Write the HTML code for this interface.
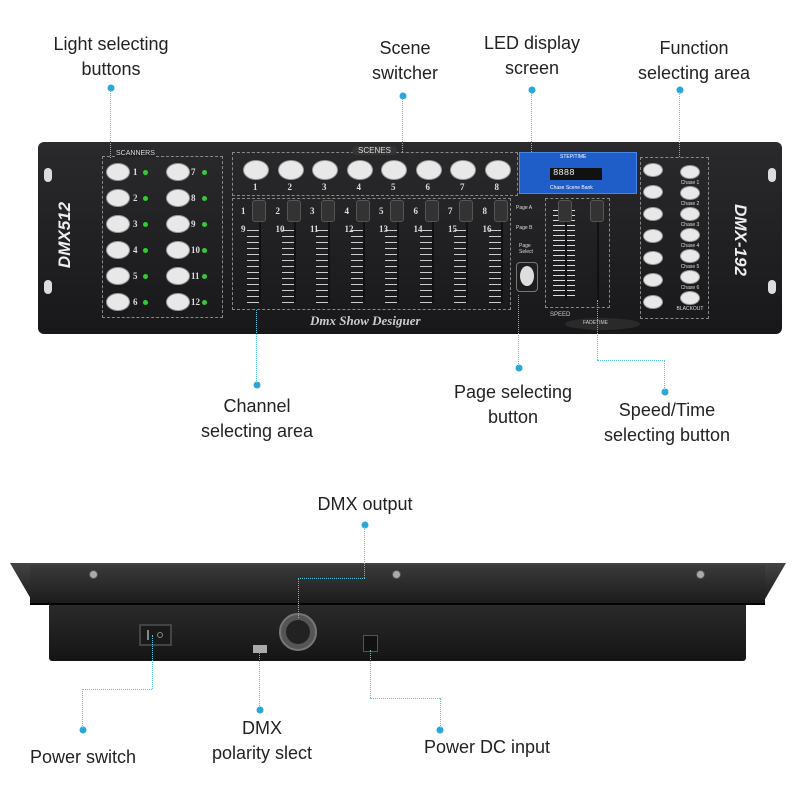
<!DOCTYPE html>
<html><head><meta charset="utf-8"><style>
*{margin:0;padding:0;box-sizing:border-box}
body{width:794px;height:795px;background:#fff;position:relative;overflow:hidden;font-family:"Liberation Sans",sans-serif}
.a{position:absolute}
.lbl{position:absolute;font-size:18px;color:#222;text-align:center;line-height:25px;white-space:nowrap;transform:translateX(-50%)}
.dot{position:absolute;width:7px;height:7px;border-radius:50%;background:#2aa7d8;transform:translate(-50%,-50%)}
.vl{position:absolute;border-left:1px dotted #5bc0d8;width:0}
.hl{position:absolute;border-top:1px dotted #5bc0d8;height:0}
.btn{position:absolute;width:24px;height:18px;border-radius:50%;background:#e8e8e8;border:1px solid #999}
.led{position:absolute;width:5px;height:5px;border-radius:50%;background:#3c3}
.num{position:absolute;color:#ddd;font-size:9px;font-family:"Liberation Serif",serif;font-weight:bold}
.box{position:absolute;border:1px dashed #888}
.fad{position:absolute;width:2px;background:#111}
.knob{position:absolute;width:14px;height:22px;background:#333;border:1px solid #555;border-radius:3px}
.sb{position:absolute;width:20px;height:14px;border-radius:50%;background:#e8e8e8;border:1px solid #999}
.st{position:absolute;color:#ddd;font-size:5px;width:40px;text-align:center}
.scr{position:absolute;width:9px;height:9px;border-radius:50%;background:#aaa;border:1px solid #555}
</style></head><body>

<!-- front panel -->
<div class="a" style="left:38px;top:142px;width:744px;height:192px;background:linear-gradient(#2a2a2c,#18181a);border-radius:6px"></div>
<div class="a" style="left:44px;top:168px;width:8px;height:14px;border-radius:4px;background:#ddd"></div>
<div class="a" style="left:44px;top:280px;width:8px;height:14px;border-radius:4px;background:#ddd"></div>
<div class="a" style="left:768px;top:168px;width:8px;height:14px;border-radius:4px;background:#ddd"></div>
<div class="a" style="left:768px;top:280px;width:8px;height:14px;border-radius:4px;background:#ddd"></div>
<div class="a" style="left:30px;top:225px;transform:rotate(-90deg);color:#eee;font-weight:bold;font-style:italic;font-size:17px;width:70px;text-align:center">DMX512</div>
<div class="a" style="left:700px;top:230px;transform:rotate(90deg);color:#eee;font-weight:bold;font-style:italic;font-size:17px;width:80px;text-align:center">DMX-192</div>

<div class="box" style="left:102px;top:156px;width:121px;height:162px"></div>
<div class="a" style="left:116px;top:150px;color:#ddd;font-size:7px;background:#222">SCANNERS</div>

<div class="box" style="left:232px;top:152px;width:286px;height:44px"></div>
<div class="a" style="left:352px;top:146px;color:#ddd;font-size:8px;background:#333;padding:0 6px;border-radius:6px">SCENES</div>
<div class="box" style="left:232px;top:198px;width:279px;height:112px"></div>
<div class="a" style="left:310px;top:313px;color:#ccc;font-size:13px;font-style:italic;font-weight:bold;font-family:'Liberation Serif',serif">Dmx Show Desiguer</div>

<div class="a" style="left:519px;top:152px;width:118px;height:42px;background:#1f5ec9;border:1px solid #4a86e8"></div>
<div class="a" style="left:550px;top:168px;width:52px;height:12px;background:#111"></div>
<div class="a" style="left:553px;top:168px;color:#eee;font-size:9px;font-family:'Liberation Mono',monospace">8888</div>
<div class="a" style="left:560px;top:154px;color:#fff;font-size:5px">STEP/TIME</div>
<div class="a" style="left:550px;top:185px;color:#fff;font-size:5px">Chase Scene Bank</div>

<div class="box" style="left:545px;top:198px;width:65px;height:110px"></div>
<div class="a" style="left:553px;top:210px;width:22px;height:90px;background:repeating-linear-gradient(#ddd 0 1px,transparent 1px 5px)"></div>
<div class="fad" style="left:565px;top:205px;height:95px"></div>
<div class="fad" style="left:597px;top:205px;height:95px"></div>
<div class="knob" style="left:558px;top:200px"></div>
<div class="knob" style="left:590px;top:200px"></div>
<div class="a" style="left:550px;top:312px;color:#ccc;font-size:6px">SPEED</div>
<div class="a" style="left:565px;top:318px;width:75px;height:12px;border-radius:50%;background:#2a2a2a"></div>
<div class="a" style="left:583px;top:320px;color:#ccc;font-size:5px">FADETIME</div>

<div class="box" style="left:640px;top:157px;width:69px;height:162px"></div>
<div class="a" style="left:516px;top:262px;width:22px;height:30px;border:1px solid #777;border-radius:4px"></div>
<div class="a" style="left:520px;top:266px;width:14px;height:20px;border-radius:50%;background:#ddd"></div>
<div class="a" style="left:516px;top:205px;color:#ddd;font-size:5px">Page A</div>
<div class="a" style="left:516px;top:225px;color:#ddd;font-size:5px">Page B</div>
<div class="a" style="left:519px;top:243px;color:#ddd;font-size:5px">Page<br>Select</div>

<div id="gen"></div>

<!-- back panel -->
<div class="a" style="left:10px;top:563px;width:776px;height:40px;background:linear-gradient(#444,#1a1a1a);clip-path:polygon(0 0,100% 0,97% 100%,3% 100%)"></div>
<div class="a" style="left:30px;top:565px;width:735px;height:40px;background:linear-gradient(#3a3a3a,#1a1a1a)"></div>
<div class="a" style="left:30px;top:603px;width:735px;height:2px;background:#000"></div>
<div class="a" style="left:49px;top:605px;width:697px;height:56px;background:linear-gradient(#2a2a2a,#151515);border-radius:0 0 3px 3px"></div>
<div class="a" style="left:139px;top:624px;width:33px;height:22px;background:#1a1a1a;border:2px solid #444"></div>
<div class="a" style="left:147px;top:630px;width:2px;height:10px;background:#888"></div>
<div class="a" style="left:157px;top:632px;width:6px;height:6px;border-radius:50%;border:1px solid #888"></div>
<div class="a" style="left:279px;top:613px;width:38px;height:38px;border-radius:50%;background:#555;border:2px solid #777"></div>
<div class="a" style="left:286px;top:620px;width:24px;height:24px;border-radius:50%;background:#222"></div>
<div class="a" style="left:363px;top:635px;width:15px;height:17px;background:#111;border:1px solid #555"></div>
<div class="a" style="left:253px;top:645px;width:14px;height:8px;background:#aaa"></div>
<div class="scr" style="left:89px;top:570px"></div>
<div class="scr" style="left:392px;top:570px"></div>
<div class="scr" style="left:696px;top:570px"></div>

<!-- labels -->
<div class="lbl" style="left:111px;top:32px">Light selecting<br>buttons</div>
<div class="dot" style="left:111px;top:88px"></div><div class="vl" style="left:110px;top:90px;height:68px"></div>
<div class="lbl" style="left:405px;top:36px">Scene<br>switcher</div>
<div class="dot" style="left:403px;top:96px"></div><div class="vl" style="left:402px;top:98px;height:54px"></div>
<div class="lbl" style="left:532px;top:31px">LED display<br>screen</div>
<div class="dot" style="left:532px;top:90px"></div><div class="vl" style="left:531px;top:92px;height:60px"></div>
<div class="lbl" style="left:694px;top:36px">Function<br>selecting area</div>
<div class="dot" style="left:680px;top:90px"></div><div class="vl" style="left:679px;top:92px;height:65px"></div>
<div class="lbl" style="left:257px;top:394px">Channel<br>selecting area</div>
<div class="dot" style="left:257px;top:385px"></div><div class="vl" style="left:256px;top:310px;height:73px"></div>
<div class="lbl" style="left:513px;top:380px">Page selecting<br>button</div>
<div class="dot" style="left:519px;top:368px"></div><div class="vl" style="left:518px;top:295px;height:71px"></div>
<div class="lbl" style="left:667px;top:398px">Speed/Time<br>selecting button</div>
<div class="dot" style="left:665px;top:392px"></div><div class="vl" style="left:664px;top:360px;height:30px"></div>
<div class="hl" style="left:597px;top:360px;width:68px"></div><div class="vl" style="left:597px;top:300px;height:60px"></div>

<div class="lbl" style="left:365px;top:492px">DMX output</div>
<div class="dot" style="left:365px;top:525px"></div><div class="vl" style="left:364px;top:527px;height:51px"></div><div class="hl" style="left:298px;top:578px;width:67px"></div><div class="vl" style="left:298px;top:578px;height:40px"></div>
<div class="lbl" style="left:83px;top:745px">Power switch</div>
<div class="dot" style="left:83px;top:730px"></div><div class="vl" style="left:82px;top:689px;height:39px"></div><div class="hl" style="left:82px;top:689px;width:70px"></div><div class="vl" style="left:152px;top:635px;height:54px"></div>
<div class="lbl" style="left:262px;top:716px">DMX<br>polarity slect</div>
<div class="dot" style="left:260px;top:710px"></div><div class="vl" style="left:259px;top:653px;height:55px"></div>
<div class="lbl" style="left:487px;top:735px">Power DC input</div>
<div class="dot" style="left:440px;top:730px"></div><div class="vl" style="left:370px;top:650px;height:48px"></div><div class="hl" style="left:370px;top:698px;width:70px"></div><div class="vl" style="left:440px;top:698px;height:30px"></div>

<script>
var g=document.getElementById('gen'),h='';
for(var i=0;i<6;i++){var y=163+i*26;
h+='<div class="btn" style="left:106px;top:'+y+'px"></div><div class="num" style="left:133px;top:'+(y+4)+'px">'+(i+1)+'</div><div class="led" style="left:143px;top:'+(y+7)+'px"></div>';
h+='<div class="btn" style="left:166px;top:'+y+'px"></div><div class="num" style="left:191px;top:'+(y+4)+'px">'+(i+7)+'</div><div class="led" style="left:202px;top:'+(y+7)+'px"></div>';}
for(var i=0;i<8;i++){var x=243+i*34.5;
h+='<div class="btn" style="left:'+x+'px;top:160px;width:26px;height:20px"></div><div class="num" style="left:'+(x+10)+'px;top:182px">'+(i+1)+'</div>';
h+='<div class="a" style="left:'+(x+4)+'px;top:230px;width:12px;height:75px;background:repeating-linear-gradient(#ccc 0 1px,transparent 1px 6px)"></div>';
h+='<div class="fad" style="left:'+(x+16)+'px;top:205px;height:98px"></div><div class="knob" style="left:'+(x+9)+'px;top:200px"></div>';
h+='<div class="num" style="left:'+(x-2)+'px;top:206px">'+(i+1)+'</div><div class="num" style="left:'+(x-2)+'px;top:224px">'+(i+9)+'</div>';}
var R=['Chase 1','Chase 2','Chase 3','Chase 4','Chase 5','Chase 6','BLACKOUT'];
for(var i=0;i<7;i++){var y=163+i*21;
h+='<div class="sb" style="left:680px;top:'+(y+2)+'px"></div><div class="st" style="left:670px;top:'+(y+17)+'px">'+R[i]+'</div>';}
for(var i=0;i<7;i++){var y=163+i*22;
h+='<div class="sb" style="left:643px;top:'+y+'px"></div>';}
g.innerHTML=h;
</script>
</body></html>
